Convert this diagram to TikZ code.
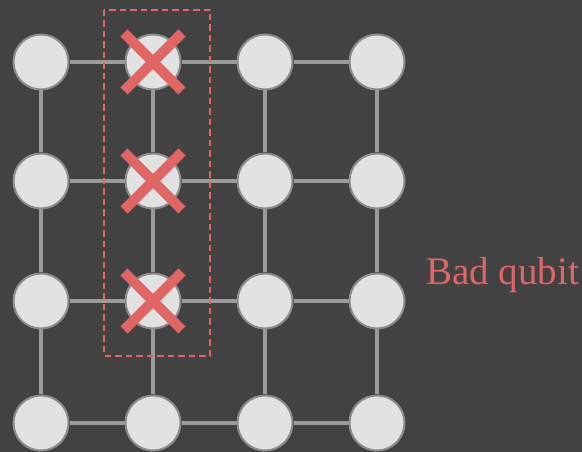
\documentclass[tikz,border=0pt]{standalone}
\usepackage{fontspec}
\setmainfont{Liberation Serif}
\definecolor{Bg}{HTML}{424242}
\definecolor{QubitFill}{HTML}{E2E2E2}
\definecolor{QubitEdge}{HTML}{8C8C8C}
\definecolor{Link}{HTML}{9B9B9B}
\definecolor{Bad}{HTML}{E06666}

\begin{document}
\begin{tikzpicture}[x=1pt,y=1pt,
    qubit/.style={circle,fill=QubitFill,draw=QubitEdge,line width=2pt,minimum size=55pt,inner sep=0pt},
    link/.style={Link,line width=4pt},
    cross/.style={Bad,line width=10pt},
    badbox/.style={Bad,line width=2pt,dash pattern=on 6.5pt off 4pt}]
      \useasboundingbox (0,0) rectangle (582,452);
      \fill[Bg] (0,0) rectangle (582,452);
      % 4x4 lattice
      \foreach \r/\y in {1/390,2/271,3/151,4/29}
        \foreach \c/\x in {1/41,2/153,3/265,4/377}
          \node[qubit] (q\r\c) at (\x,\y) {};
      \foreach \r in {1,...,4}
        \draw[link] (q\r1) -- (q\r2) (q\r2) -- (q\r3) (q\r3) -- (q\r4);
      \foreach \c in {1,...,4}
        \draw[link] (q1\c) -- (q2\c) (q2\c) -- (q3\c) (q3\c) -- (q4\c);
      % faulty column
      \foreach \r in {1,2,3}{
        \draw[cross] ([shift={(-29,-29)}]q\r2.center) -- ([shift={(29,29)}]q\r2.center);
        \draw[cross] ([shift={(-29,29)}]q\r2.center) -- ([shift={(29,-29)}]q\r2.center);
      }
      \draw[badbox] ([shift={(-49,52)}]q12.center) rectangle ([shift={(57,-55)}]q32.center);
      \node[Bad,font=\fontsize{39}{44}\selectfont,anchor=base west,inner sep=0pt] (label) at (426,167) {Bad qubit};
    \end{tikzpicture}
\end{document}
